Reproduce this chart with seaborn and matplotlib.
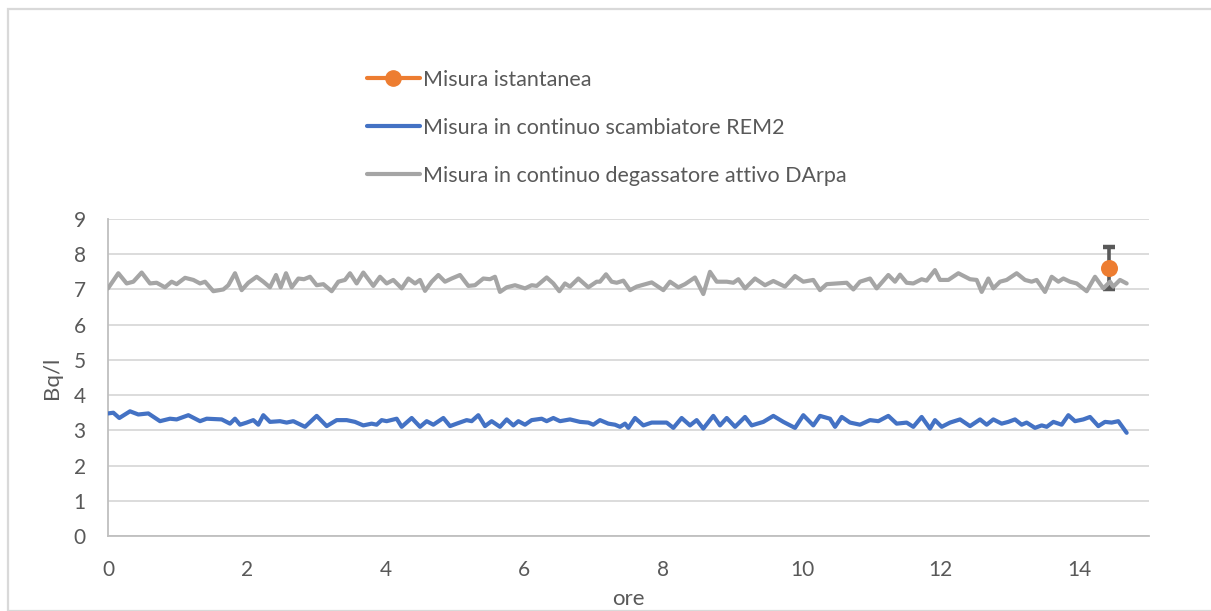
import matplotlib
matplotlib.use("Agg")
import matplotlib.pyplot as plt
import seaborn as sns
import pandas as pd
from matplotlib.lines import Line2D
from matplotlib.patches import Rectangle

# ---------------- data ----------------
ore_darpa = [0.000, 0.149, 0.269, 0.365, 0.485, 0.605, 0.701, 0.821, 0.917, 0.989,
             1.110, 1.230, 1.326, 1.398, 1.518, 1.662, 1.734, 1.830, 1.926, 2.022,
             2.142, 2.238, 2.334, 2.421, 2.488, 2.565, 2.647, 2.743, 2.824, 2.911,
             3.007, 3.103, 3.223, 3.319, 3.415, 3.487, 3.583, 3.679, 3.823, 3.919,
             4.015, 4.111, 4.232, 4.328, 4.424, 4.496, 4.568, 4.664, 4.760, 4.856,
             4.952, 5.072, 5.192, 5.288, 5.408, 5.504, 5.576, 5.648, 5.745, 5.865,
             6.009, 6.105, 6.177, 6.321, 6.417, 6.503, 6.585, 6.657, 6.777, 6.921,
             7.041, 7.089, 7.176, 7.257, 7.330, 7.426, 7.522, 7.618, 7.834, 8.002,
             8.098, 8.218, 8.314, 8.458, 8.578, 8.674, 8.771, 8.915, 9.011, 9.083,
             9.179, 9.323, 9.467, 9.587, 9.755, 9.899, 10.019, 10.163, 10.259, 10.356,
             10.644, 10.740, 10.836, 10.980, 11.076, 11.244, 11.340, 11.412, 11.508, 11.604,
             11.724, 11.796, 11.916, 11.988, 12.109, 12.253, 12.421, 12.517, 12.589, 12.685,
             12.757, 12.853, 12.949, 13.093, 13.213, 13.309, 13.381, 13.501, 13.598, 13.694,
             13.766, 13.862, 13.958, 14.102, 14.222, 14.342, 14.438, 14.486, 14.582, 14.678]
bq_darpa = [7.03, 7.46, 7.17, 7.22, 7.48, 7.17, 7.19, 7.06, 7.22, 7.15,
            7.33, 7.27, 7.17, 7.22, 6.95, 7.00, 7.12, 7.46, 6.98, 7.19,
            7.36, 7.22, 7.06, 7.41, 7.06, 7.46, 7.06, 7.31, 7.29, 7.36,
            7.12, 7.15, 6.95, 7.22, 7.27, 7.46, 7.17, 7.48, 7.10, 7.36,
            7.17, 7.27, 7.03, 7.31, 7.17, 7.27, 6.96, 7.22, 7.41, 7.22,
            7.31, 7.41, 7.10, 7.12, 7.31, 7.29, 7.36, 6.93, 7.06, 7.12,
            7.03, 7.12, 7.10, 7.34, 7.17, 6.95, 7.17, 7.08, 7.31, 7.06,
            7.22, 7.22, 7.43, 7.22, 7.19, 7.25, 6.98, 7.08, 7.20, 6.98,
            7.22, 7.06, 7.15, 7.34, 6.87, 7.50, 7.22, 7.22, 7.19, 7.29,
            7.03, 7.31, 7.12, 7.24, 7.08, 7.38, 7.22, 7.27, 6.98, 7.15,
            7.19, 7.00, 7.22, 7.31, 7.03, 7.41, 7.22, 7.42, 7.19, 7.17,
            7.29, 7.25, 7.55, 7.27, 7.27, 7.46, 7.29, 7.27, 6.93, 7.31,
            7.03, 7.22, 7.27, 7.46, 7.27, 7.22, 7.27, 6.93, 7.36, 7.22,
            7.31, 7.22, 7.17, 6.95, 7.36, 7.03, 7.22, 7.08, 7.27, 7.17]

ore_rem2 = [0.000, 0.077, 0.163, 0.317, 0.437, 0.581, 0.749, 0.893, 0.989, 1.158,
            1.326, 1.422, 1.638, 1.758, 1.830, 1.902, 1.998, 2.094, 2.166, 2.238,
            2.334, 2.478, 2.574, 2.670, 2.839, 3.007, 3.151, 3.295, 3.439, 3.559,
            3.679, 3.799, 3.871, 3.943, 4.015, 4.160, 4.232, 4.376, 4.496, 4.592,
            4.688, 4.832, 4.928, 5.024, 5.168, 5.240, 5.336, 5.432, 5.528, 5.648,
            5.745, 5.841, 5.913, 6.009, 6.105, 6.249, 6.321, 6.417, 6.513, 6.657,
            6.801, 6.921, 6.993, 7.089, 7.209, 7.305, 7.378, 7.450, 7.498, 7.594,
            7.714, 7.834, 8.050, 8.146, 8.266, 8.386, 8.482, 8.578, 8.722, 8.818,
            8.915, 9.035, 9.179, 9.275, 9.443, 9.587, 9.731, 9.899, 10.019, 10.163,
            10.259, 10.403, 10.476, 10.572, 10.692, 10.836, 10.980, 11.100, 11.244, 11.364,
            11.508, 11.604, 11.724, 11.844, 11.916, 12.013, 12.133, 12.277, 12.421, 12.565,
            12.661, 12.757, 12.877, 12.973, 13.069, 13.165, 13.237, 13.357, 13.454, 13.526,
            13.622, 13.742, 13.838, 13.934, 14.054, 14.150, 14.270, 14.366, 14.462, 14.558,
            14.678]
bq_rem2 = [3.48, 3.50, 3.35, 3.54, 3.45, 3.48, 3.26, 3.33, 3.31, 3.43,
           3.26, 3.33, 3.31, 3.19, 3.33, 3.16, 3.22, 3.29, 3.16, 3.43,
           3.24, 3.26, 3.22, 3.26, 3.10, 3.41, 3.12, 3.29, 3.29, 3.24,
           3.14, 3.19, 3.16, 3.29, 3.26, 3.33, 3.10, 3.35, 3.10, 3.26,
           3.16, 3.35, 3.12, 3.19, 3.29, 3.26, 3.43, 3.12, 3.26, 3.10,
           3.31, 3.14, 3.26, 3.16, 3.29, 3.33, 3.26, 3.35, 3.26, 3.31,
           3.24, 3.22, 3.16, 3.29, 3.19, 3.16, 3.10, 3.19, 3.07, 3.35,
           3.14, 3.22, 3.22, 3.07, 3.35, 3.14, 3.29, 3.05, 3.41, 3.14,
           3.35, 3.10, 3.38, 3.14, 3.24, 3.41, 3.24, 3.07, 3.43, 3.14,
           3.41, 3.33, 3.10, 3.38, 3.22, 3.16, 3.29, 3.26, 3.41, 3.19,
           3.22, 3.10, 3.38, 3.05, 3.29, 3.10, 3.22, 3.31, 3.12, 3.31,
           3.16, 3.31, 3.19, 3.24, 3.31, 3.16, 3.22, 3.07, 3.14, 3.10,
           3.24, 3.16, 3.43, 3.26, 3.31, 3.38, 3.12, 3.24, 3.22, 3.26,
           2.93]

ore_ist = [14.42]
bq_ist = [7.6]
err_ist = [0.6]

labels = ["Misura istantanea",
          "Misura in continuo scambiatore REM2",
          "Misura in continuo degassatore attivo DArpa"]
xticks = [0, 2, 4, 6, 8, 10, 12, 14]
yticks = [0, 1, 2, 3, 4, 5, 6, 7, 8, 9]

# ---------------- style ----------------
sns.set_theme(style="white")
TXT = "#595959"
plt.rcParams.update({
    "font.family": ["Lato", "DejaVu Sans"],
    "xtick.major.pad": 17,
    "ytick.major.pad": 16,
    "xtick.major.size": 0,
    "ytick.major.size": 0,
    "xtick.labelsize": 15,
    "ytick.labelsize": 15,
    "xtick.color": TXT,
    "ytick.color": TXT,
})
C_OR, C_BL, C_GR = "#ED7D31", "#4472C4", "#A5A5A5"

W, H = 1211, 611
fig = plt.figure(figsize=(W / 100, H / 100), dpi=100)
ax = fig.add_axes([108 / W, 1 - 536 / H, (1149 - 108) / W, (536 - 219) / H])

df_g = pd.DataFrame({"ore": ore_darpa, "Bq": bq_darpa})
df_b = pd.DataFrame({"ore": ore_rem2, "Bq": bq_rem2})
sns.lineplot(data=df_g, x="ore", y="Bq", ax=ax, color=C_GR, lw=3.0,
             sort=False, legend=False, zorder=3)
sns.lineplot(data=df_b, x="ore", y="Bq", ax=ax, color=C_BL, lw=3.0,
             sort=False, legend=False, zorder=3)
ax.errorbar(ore_ist, bq_ist, yerr=err_ist, fmt="none", ecolor="#595959",
            elinewidth=2.6, capsize=4, capthick=3.2, zorder=2)
sns.scatterplot(x=ore_ist, y=bq_ist, ax=ax, color=C_OR, s=150,
                edgecolor=C_OR, linewidth=0, zorder=5, legend=False)

ax.set_xlim(0, 15)
ax.set_ylim(0, 9)
ax.set_xticks(xticks)
ax.set_yticks(yticks)
ax.grid(axis="y", color="#D9D9D9", lw=1.3)
ax.grid(axis="x", visible=False)
for s in ["top", "right"]:
    ax.spines[s].set_visible(False)
ax.spines["left"].set_color("#BFBFBF")
ax.spines["left"].set_linewidth(1.3)
ax.spines["bottom"].set_color("#BFBFBF")
ax.spines["bottom"].set_linewidth(1.3)
ax.xaxis.set_tick_params(which="major", length=0, labelsize=15, labelcolor=TXT, pad=17)
ax.yaxis.set_tick_params(which="major", length=0, labelsize=15, labelcolor=TXT, pad=16)
ax.set_xlabel("ore", fontsize=16, color=TXT)
ax.set_ylabel("Bq/l", fontsize=16, color=TXT)
ax.xaxis.set_label_coords(0.5, -(589 - 536) / (536 - 219))
ax.yaxis.set_label_coords(-(108 - 62) / (1149 - 108), 0.5)

handles = [Line2D([], [], color=C_OR, lw=3.0, marker="o", ms=11),
           Line2D([], [], color=C_BL, lw=3.0),
           Line2D([], [], color=C_GR, lw=3.0)]
leg = fig.legend(handles, labels, loc="upper left",
                 bbox_to_anchor=(367 / W, 1 - 70 / H), frameon=False,
                 fontsize=15.5, handlelength=2.45, handletextpad=0.15,
                 labelspacing=1.3, borderpad=0, borderaxespad=0)
for t in leg.get_texts():
    t.set_color(TXT)

fig.patches.append(Rectangle((8 / W, 0), 1.0, 1 - 9 / H, transform=fig.transFigure,
                             fill=False, edgecolor="#D9D9D9", lw=1.6, zorder=0))

fig.savefig("out.png", dpi=100)
